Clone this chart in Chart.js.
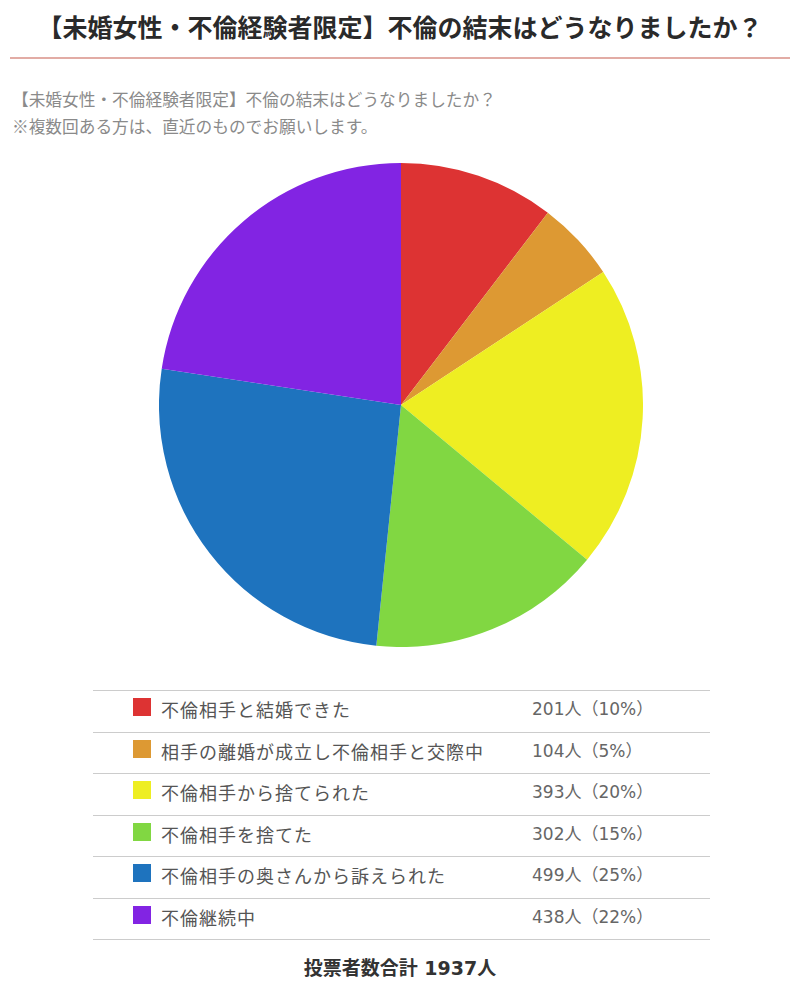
<!DOCTYPE html>
<html>
<head>
<meta charset="utf-8">
<script src="https://cdn.jsdelivr.net/npm/chart.js@4.4.0/dist/chart.umd.min.js"></script>
<style>
  body { margin: 0; background: #fff; font-family: "Noto Sans CJK JP", sans-serif; }
  #page { position: relative; width: 800px; height: 985px; overflow: hidden; }
  #title { position: absolute; top: 8px; left: 0; width: 800px; text-align: center; font-size: 25px; line-height: 36px; font-weight: bold; color: #2a2a2a; }
  #rule { position: absolute; top: 57px; left: 10px; width: 780px; height: 2px; background: #e2aca5; }
  #sub { position: absolute; top: 86px; left: 12px; font-size: 16.7px; line-height: 27px; color: #8a8a8a; }
  #chartBox { position: absolute; left: 159px; top: 163px; width: 484px; height: 484px; }
  #legend { position: absolute; left: 93px; top: 690px; width: 617px; border-top: 1px solid #ccc; }
  .row { height: 40.5px; border-bottom: 1px solid #ccc; position: relative; color: #555; }
  .sw { position: absolute; left: 40px; top: 7px; width: 18px; height: 18px; }
  .lab { position: absolute; left: 68px; top: 0; line-height: 36px; font-size: 18px; letter-spacing: 1px; }
  .val { position: absolute; left: 439px; top: 0; line-height: 36px; font-size: 17px; font-family: "DejaVu Sans", "Noto Sans CJK JP", sans-serif; color: #666; }
  #total { position: absolute; top: 952px; left: 0; width: 800px; text-align: center; font-size: 19px; line-height: 30px; font-weight: bold; color: #333; font-family: "DejaVu Sans", "Noto Sans CJK JP", sans-serif; }
  #total .jp { font-family: "Noto Sans CJK JP", sans-serif; }
</style>
</head>
<body>
<div id="page">
  <div id="title">【未婚女性・不倫経験者限定】不倫の結末はどうなりましたか？</div>
  <div id="rule"></div>
  <div id="sub">【未婚女性・不倫経験者限定】不倫の結末はどうなりましたか？<br>※複数回ある方は、直近のものでお願いします。</div>
  <div id="chartBox"><canvas id="pie"></canvas></div>
  <div id="legend"></div>
  <div id="total"></div>
</div>
<script>
const labels = ['不倫相手と結婚できた', '相手の離婚が成立し不倫相手と交際中', '不倫相手から捨てられた', '不倫相手を捨てた', '不倫相手の奥さんから訴えられた', '不倫継続中'];
const votes = [201, 104, 393, 302, 499, 438];
const percents = [10, 5, 20, 15, 25, 22];
const colors = ['#dd3333', '#dd9933', '#eeee22', '#81d742', '#1e73be', '#8224e3'];

const total = votes.reduce((a, b) => a + b, 0);

// legend table under the pie
const legend = document.getElementById('legend');
labels.forEach((lab, i) => {
    const row = document.createElement('div');
    row.className = 'row';
    row.innerHTML = '<div class="sw" style="background:' + colors[i] + '"></div>' +
        '<div class="lab">' + lab + '</div>' +
        '<div class="val">' + votes[i] + '人（' + percents[i] + '%）</div>';
    legend.appendChild(row);
});
document.getElementById('total').innerHTML = '<span class="jp">投票者数合計</span> ' + total + '人';

new Chart(document.getElementById('pie'), {
    type: 'pie',
    data: {
        labels: labels,
        datasets: [{
            data: votes,
            backgroundColor: colors,
            borderWidth: 0
        }]
    },
    options: {
        responsive: true,
        maintainAspectRatio: false,
        animation: false,
        layout: { padding: 0 },
        plugins: {
            legend: { display: false },
            tooltip: { enabled: false }
        }
    }
});
</script>
</body>
</html>
